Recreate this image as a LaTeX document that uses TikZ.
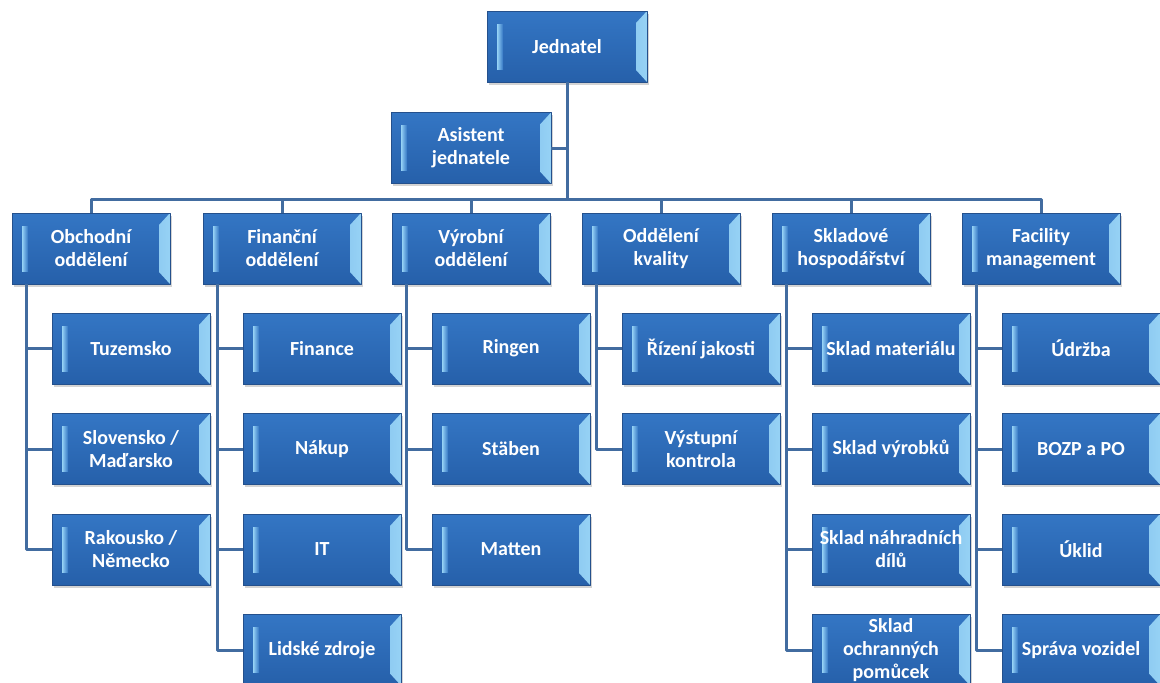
\documentclass[tikz,border=0pt]{standalone}
\usepackage{fontspec}
\setmainfont{Carlito}
\usetikzlibrary{shadows}
\definecolor{boxtop}{RGB}{52,118,196}
\definecolor{boxbot}{RGB}{38,96,170}
\definecolor{boxedge}{RGB}{36,80,140}
\definecolor{bevlight}{RGB}{150,210,245}
\definecolor{linkblue}{RGB}{66,108,160}
\begin{document}
\begin{tikzpicture}[x=1pt,y=1pt,line join=round,
	orgbox/.style={rectangle,minimum width=158pt,minimum height=71pt,inner sep=2pt,align=center,text=white,
		font=\bfseries\fontsize{20}{23}\selectfont,top color=boxtop,bottom color=boxbot,draw=boxedge,line width=0.6pt,
		drop shadow={shadow xshift=2pt,shadow yshift=-2.5pt,opacity=0.35},
		path picture={
			\shade[left color=boxtop,right color=bevlight] ([xshift=-11pt,yshift=-12pt]path picture bounding box.north east)--(path picture bounding box.north east)--(path picture bounding box.south east)--([xshift=-11pt,yshift=12pt]path picture bounding box.south east)--cycle;
			\shade[left color=bevlight,right color=boxtop] ([xshift=10pt,yshift=-13pt]path picture bounding box.north west) rectangle ([xshift=16pt,yshift=13pt]path picture bounding box.south west);}},
	link/.style={draw=linkblue,line width=3pt}]
	\useasboundingbox (0,0) rectangle (1160,-683);
	\node[orgbox,minimum width=160pt] (jed) at (567,-46.5) {Jednatel};
	\node[orgbox,minimum width=160pt] (asist) at (471,-148) {Asistent\\jednatele};
	\coordinate (bus) at (567,-199);
	\foreach \n/\x/\t in {obch/91/{Obchodní\\oddělení},fin/282/{Finanční\\oddělení},vyr/471/{Výrobní\\oddělení},kval/661/{Oddělení\\kvality},sklad/851/{Skladové\\hospodářství},fac/1041/{Facility\\management}}
		\node[orgbox] (\n) at (\x,-248.5) {\t};
	\foreach \p/\i/\t [evaluate=\i as \y using -348.5-100.5*(\i-1)] in {obch/1/Tuzemsko,obch/2/{Slovensko /\\Maďarsko},obch/3/{Rakousko /\\Německo},
		fin/1/Finance,fin/2/Nákup,fin/3/IT,fin/4/Lidské zdroje,
		vyr/1/Ringen,vyr/2/Stäben,vyr/3/Matten,
		kval/1/Řízení jakosti,kval/2/{Výstupní\\kontrola},
		sklad/1/Sklad materiálu,sklad/2/Sklad výrobků,sklad/3/{Sklad náhradních\\dílů},sklad/4/{Sklad\\ochranných\\pomůcek},
		fac/1/Údržba,fac/2/BOZP a PO,fac/3/Úklid,fac/4/Správa vozidel}
		\node[orgbox,xshift=40pt] (\p\i) at (\p.center |- 0,\y) {\t};
	\draw[link] (jed)--(bus);
	\draw[link] (asist)--(asist -| jed);
	\foreach \n in {obch,fin,vyr,kval,sklad,fac}
		\draw[link] (bus) -| (\n);
	\foreach \p/\i in {obch/1,obch/2,obch/3,fin/1,fin/2,fin/3,fin/4,vyr/1,vyr/2,vyr/3,kval/1,kval/2,sklad/1,sklad/2,sklad/3,sklad/4,fac/1,fac/2,fac/3,fac/4}
		\draw[link] ([xshift=15pt]\p.south west) |- (\p\i);
\end{tikzpicture}
\end{document}
